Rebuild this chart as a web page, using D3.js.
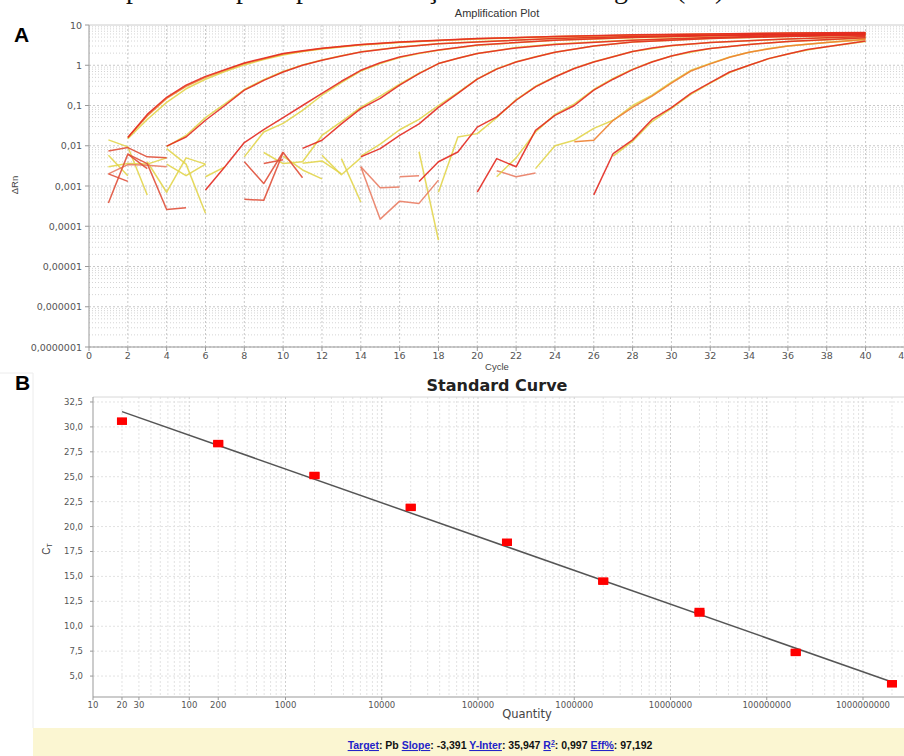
<!DOCTYPE html>
<html lang="pt">
<head>
<meta charset="utf-8">
<title>Amplification Plot / Standard Curve</title>
<script src="https://d3js.org/d3.v7.min.js"></script>
<style>
  body { margin: 0; background: #fff; }
  svg { display: block; font-family: "Liberation Sans", Arial, sans-serif; }
  .tick { fill: #555; font-size: 9.5px; font-family: "DejaVu Sans", sans-serif; }
  .tickB { fill: #555; font-size: 8.5px; font-family: "DejaVu Sans", sans-serif; }
  .gminor { stroke: #d4d4d4; stroke-dasharray: 1,2; }
  .gmajor { stroke: #c8c8c8; stroke-dasharray: 2,2; }
  .axis { stroke: #999; }
  .curve { fill: none; stroke-width: 1.5; stroke-linejoin: round; }
  .link { fill: #2323c8; text-decoration: underline; }
</style>
</head>
<body>
<svg id="chart" width="904" height="756"></svg>
<script>
// ---------- Panel A: amplification curves, [cycle, deltaRn] ----------
const g1Red    = [[2,0.016],[3,0.06],[4,0.16],[5,0.32],[6,0.53],[7,0.78],[8,1.14],[9,1.5],[10,1.95],[11,2.3],[12,2.65],[14,3.3],[16,3.8],[18,4.2],[20,4.6],[24,5.2],[28,5.7],[32,6.0],[36,6.3],[40,6.5]];
const g1Yellow = [[2,0.015],[3,0.045],[4,0.12],[5,0.26],[6,0.45],[7,0.7],[8,1.02],[9,1.38],[10,1.8],[11,2.2],[12,2.55],[14,3.2],[16,3.7],[18,4.1],[20,4.5],[24,5.1],[28,5.6],[32,5.9],[36,6.2],[40,6.4]];
const g1Orange = [[2,0.016],[3,0.055],[4,0.15],[5,0.3],[6,0.5],[7,0.75],[8,1.1],[10,1.9],[12,2.6],[14,3.25],[16,3.75],[20,4.55],[24,5.15],[28,5.6],[32,5.95],[36,6.2],[40,6.4]];
const g2Red    = [[4,0.0098],[5,0.0165],[6,0.043],[7,0.1],[8,0.24],[9,0.42],[10,0.68],[11,1.0],[12,1.33],[13,1.7],[14,2.14],[16,2.8],[18,3.4],[20,3.8],[24,4.6],[28,5.2],[32,5.6],[36,5.9],[40,6.2]];
const g2Yellow = [[4,0.0095],[5,0.018],[6,0.05],[7,0.11],[8,0.25],[9,0.44],[10,0.7],[11,1.02],[12,1.35],[13,1.72],[14,2.15],[16,2.85],[18,3.4],[20,3.85],[24,4.6],[28,5.2],[32,5.6],[36,5.9],[40,6.1]];
const g3Red    = [[6,0.0008],[7,0.003],[8,0.012],[9,0.025],[10,0.05],[11,0.1],[12,0.2],[13,0.4],[14,0.75],[15,1.15],[16,1.6],[17,2.0],[18,2.4],[20,3.2],[24,4.2],[28,4.9],[32,5.4],[36,5.7],[40,6.0]];
const g3Yellow = [[8,0.0053],[9,0.022],[10,0.036],[11,0.076],[12,0.18],[13,0.37],[14,0.72],[15,1.1],[16,1.55],[17,1.95],[18,2.35],[20,3.15],[24,4.15],[28,4.85],[32,5.35],[36,5.65],[40,5.9]];
const g4Red    = [[11,0.0086],[12,0.0137],[13,0.035],[14,0.084],[15,0.15],[16,0.32],[17,0.62],[18,1.1],[19,1.5],[20,1.95],[22,2.7],[24,3.3],[28,4.2],[32,4.9],[36,5.4],[40,5.8]];
const g4Yellow = [[11,0.004],[12,0.018],[13,0.04],[14,0.09],[15,0.17],[16,0.34],[17,0.64],[18,1.1],[19,1.5],[20,1.95],[22,2.75],[24,3.35],[28,4.25],[32,4.9],[36,5.35],[40,5.7]];
const g5Red    = [[14,0.0053],[15,0.0085],[16,0.018],[17,0.035],[18,0.09],[19,0.2],[20,0.45],[21,0.8],[22,1.2],[23,1.6],[24,2.1],[26,3.0],[28,3.8],[32,4.6],[36,5.2],[40,5.6]];
const g5Yellow = [[14,0.0055],[15,0.011],[16,0.025],[17,0.045],[18,0.1],[19,0.21],[20,0.46],[21,0.82],[22,1.22],[23,1.62],[24,2.1],[26,3.0],[28,3.8],[32,4.6],[36,5.15],[40,5.5]];
const g6Red    = [[17,0.0013],[18,0.004],[19,0.007],[20,0.029],[21,0.052],[22,0.135],[23,0.29],[24,0.51],[25,0.83],[26,1.2],[28,2.2],[29,2.7],[30,3.1],[32,3.7],[36,4.5],[40,5.2]];
const g6Yellow = [[18,0.0007],[19,0.0165],[20,0.02],[21,0.05],[22,0.14],[23,0.3],[24,0.52],[25,0.85],[26,1.22],[28,2.2],[30,3.05],[32,3.65],[36,4.5],[40,5.1]];
const g7Red    = [[20,0.0007],[21,0.0048],[22,0.003],[23,0.024],[24,0.057],[25,0.1],[26,0.24],[27,0.45],[28,0.78],[29,1.2],[30,1.7],[31,2.2],[32,2.6],[34,3.3],[36,3.9],[40,4.8]];
const g7Yellow = [[21,0.0017],[22,0.005],[23,0.022],[24,0.06],[25,0.11],[26,0.25],[27,0.47],[28,0.8],[29,1.22],[30,1.7],[32,2.6],[34,3.3],[36,3.9],[40,4.7]];
const g8Yellow = [[23,0.0027],[24,0.01],[25,0.0137],[26,0.027],[27,0.043],[28,0.1],[29,0.18],[30,0.38],[31,0.75],[32,1.1],[33,1.6],[34,2.1],[35,2.6],[36,3.0],[38,3.7],[40,4.3]];
const g8Salmon = [[25,0.0125],[26,0.0137],[27,0.043],[28,0.09],[29,0.17],[30,0.36],[31,0.72],[32,1.08],[33,1.58],[34,2.1],[35,2.55],[36,3.0],[38,3.7],[40,4.4]];
const g9Red    = [[26,0.0006],[27,0.0064],[28,0.014],[29,0.045],[30,0.089],[31,0.2],[32,0.37],[33,0.68],[34,1.0],[35,1.46],[36,1.9],[37,2.45],[38,2.9],[40,4.0]];
const g9Yellow = [[27,0.0055],[28,0.013],[29,0.04],[30,0.085],[31,0.19],[32,0.36],[33,0.66],[34,1.0],[35,1.45],[36,1.9],[37,2.4],[38,2.9],[40,3.9]];

// baseline noise (only the positive values show on a log axis)
const noiseYellow = [
  [[1,0.014],[2,0.0094],[3,0.0006]],
  [[1,0.0058],[2,0.0018]],
  [[1,0.003],[2,0.0036],[3,0.0035],[4,0.005]],
  [[3,0.004],[4,0.0007],[5,0.005],[6,0.0035]],
  [[4,0.0085],[5,0.0035],[6,0.00021]],
  [[4,0.0035],[5,0.0018],[6,0.0035]],
  [[6,0.0017],[7,0.003]],
  [[9,0.0068],[10,0.0036],[11,0.004]],
  [[10,0.0055],[11,0.0025],[12,0.0015]],
  [[11,0.0037],[12,0.0042],[13,0.002]],
  [[12,0.0058],[13,0.0019],[14,0.005]],
  [[13,0.0048],[14,0.0004]],
  [[17,0.0071],[18,0.000045]]
];
const noiseRed = [
  [[1,0.0074],[2,0.009],[3,0.0053],[4,0.005]],
  [[1,0.00038],[2,0.0062],[3,0.0027]],
  [[1,0.002],[2,0.0013]],
  [[2,0.0062],[3,0.0036],[4,0.00026],[5,0.00029]],
  [[8,0.004],[9,0.00115],[10,0.007]],
  [[8,0.00047],[9,0.00044],[10,0.0068],[11,0.0016]],
  [[9,0.0036],[10,0.0045]]
];
const noiseSalmon = [
  [[1,0.002],[2,0.0034],[3,0.0033],[4,0.003]],
  [[14,0.003],[15,0.00015],[16,0.00042],[17,0.00037],[18,0.0014]],
  [[14,0.003],[15,0.0009],[16,0.00095]],
  [[16,0.0017],[17,0.0018]],
  [[21,0.0024],[22,0.0017],[23,0.0021]]
];

const xTicksA = [0,2,4,6,8,10,12,14,16,18,20,22,24,26,28,30,32,34,36,38,40,42];
const yTicksA = [1e-7,1e-6,1e-5,1e-4,1e-3,0.01,0.1,1,10];
const yTickLabelsA = ["0,0000001","0,000001","0,00001","0,0001","0,001","0,01","0,1","1","10"];

// ---------- Panel B: standard curve ----------
const quantities = [20,200,2000,20000,200000,2000000,20000000,200000000,2000000000];
const ctRep1 = [30.6,28.35,25.15,21.9,18.4,14.5,11.3,7.4,4.2];
const ctRep2 = [30.55,28.3,25.1,21.95,18.45,14.55,11.5,7.35,4.25];
const slope = -3.391, yInter = 35.947;
const xTicksB = [10,20,30,100,200,1000,10000,100000,1000000,10000000,100000000,1000000000];
const yTicksB = [5,7.5,10,12.5,15,17.5,20,22.5,25,27.5,30,32.5];
const statLabels = [["Target","Pb"],["Slope","-3,391"],["Y-Inter","35,947"],["R","0,997"],["Eff%","97,192"]];

// words of the caption line cut off at the top of the figure
const captionWords = [[126,"por"],[236,"para"],[296,"padrão"],[392,"reação"],[614,"gene"],[676,"(Pb)"]];

const RED = "#e3291f", ORANGE = "#ee8030", YELLOW = "#e2d54c", SALMON = "#e97d64";

const svg = d3.select("#chart");

const cap = svg.append("text").attr("y", -2).style("font-family", "'Liberation Serif', serif").style("font-size", "28px").attr("fill", "#111");
captionWords.forEach(function(w) {
  cap.append("tspan").attr("x", w[0]).text(w[1] + " ");
});

// ================= Panel A =================
const xA = d3.scaleLinear().domain([0, 42]).range([89, 904.4]);
const yA = d3.scaleLog().domain([1e-7, 10]).range([347, 25]);
const gA = svg.append("g");

const minorA = [];
d3.range(-7, 1).forEach(function(e) { [2,3,4,5,6,7,8,9].forEach(function(k) { minorA.push(k * Math.pow(10, e)); }); });
gA.selectAll("line.hm").data(minorA).enter().append("line").attr("class", "gminor")
  .attr("x1", 89).attr("x2", 904).attr("y1", d => yA(d)).attr("y2", d => yA(d));
gA.selectAll("line.hM").data(yTicksA.slice(0, 8)).enter().append("line").attr("class", "gmajor")
  .attr("x1", 89).attr("x2", 904).attr("y1", d => yA(d)).attr("y2", d => yA(d));
gA.selectAll("line.vM").data(xTicksA.slice(1)).enter().append("line").attr("class", "gmajor")
  .attr("x1", d => xA(d)).attr("x2", d => xA(d)).attr("y1", 25).attr("y2", 347);
gA.append("line").attr("x1", 89).attr("x2", 904).attr("y1", 25).attr("y2", 25).attr("stroke", "#ccc");

const lineA = d3.line().x(d => xA(d[0])).y(d => yA(d[1]));
function drawCurves(list, color) {
  gA.selectAll(null).data(list).enter().append("path").attr("class", "curve")
    .attr("stroke", color).attr("stroke-opacity", 0.9).attr("d", lineA);
}
drawCurves(noiseYellow, YELLOW);
drawCurves(noiseSalmon, SALMON);
drawCurves(noiseRed, "#e0503a");
drawCurves([g1Yellow, g2Yellow, g3Yellow, g4Yellow, g5Yellow, g6Yellow, g7Yellow, g8Yellow, g9Yellow], YELLOW);
drawCurves([g1Orange, g8Salmon], ORANGE);
drawCurves([g1Red, g2Red, g3Red, g4Red, g5Red, g6Red, g7Red, g9Red], RED);

gA.append("line").attr("class", "axis").attr("x1", 89).attr("x2", 89).attr("y1", 25).attr("y2", 347);
gA.append("line").attr("class", "axis").attr("x1", 89).attr("x2", 904).attr("y1", 347).attr("y2", 347);
gA.selectAll("line.ty").data(yTicksA).enter().append("line").attr("class", "axis")
  .attr("x1", 85).attr("x2", 89).attr("y1", d => yA(d)).attr("y2", d => yA(d));
gA.selectAll("line.tx").data(xTicksA).enter().append("line").attr("class", "axis")
  .attr("x1", d => xA(d)).attr("x2", d => xA(d)).attr("y1", 347).attr("y2", 351);
gA.selectAll("text.ty").data(yTicksA).enter().append("text").attr("class", "tick")
  .attr("x", 82).attr("y", d => yA(d) + 3.5).attr("text-anchor", "end").text((d, i) => yTickLabelsA[i]);
gA.selectAll("text.tx").data(xTicksA).enter().append("text").attr("class", "tick")
  .attr("x", d => xA(d)).attr("y", 359).attr("text-anchor", "middle").text(d => d);

svg.append("text").attr("x", 497).attr("y", 17).attr("text-anchor", "middle")
  .style("font-size", "11px").attr("fill", "#333").text("Amplification Plot");
svg.append("text").attr("x", 497).attr("y", 370).attr("text-anchor", "middle")
  .style("font-size", "9.5px").attr("fill", "#444").text("Cycle");
svg.append("text").attr("transform", "translate(18,185) rotate(-90)").attr("text-anchor", "middle")
  .style("font-size", "9.5px").attr("fill", "#444").text("ΔRn");
svg.append("text").attr("x", 14).attr("y", 42).style("font-size", "21px").style("font-weight", "bold").text("A");

// ================= Panel B =================
const xB = d3.scaleLog().domain([10, 1e9]).range([93, 863]);
const yB = d3.scaleLinear().domain([2.9, 33]).range([697, 397]);
const gB = svg.append("g");

svg.append("path").attr("d", "M0,373H33V728").attr("fill", "none").attr("stroke", "#ececec");

const minorB = [];
d3.range(1, 10).forEach(function(e) { [1,2,3,4,5,6,7,8,9].forEach(function(k) { minorB.push(k * Math.pow(10, e)); }); });
gB.selectAll("line.vm").data(minorB.filter(d => xB(d) > 94 && xB(d) < 904)).enter().append("line")
  .attr("stroke", d => (Math.log10(d) % 1 === 0) ? "#cfcfcf" : "#e2e2e2").attr("stroke-dasharray", "2,2")
  .attr("x1", d => xB(d)).attr("x2", d => xB(d)).attr("y1", 397).attr("y2", 697);
gB.selectAll("line.hm").data(yTicksB).enter().append("line").attr("stroke", "#e2e2e2").attr("stroke-dasharray", "2,2")
  .attr("x1", 93).attr("x2", 904).attr("y1", d => yB(d)).attr("y2", d => yB(d));
gB.append("line").attr("x1", 93).attr("x2", 904).attr("y1", 397).attr("y2", 397).attr("stroke", "#d8d8d8");
gB.append("line").attr("class", "axis").attr("x1", 93).attr("x2", 93).attr("y1", 397).attr("y2", 697);
gB.append("line").attr("class", "axis").attr("x1", 93).attr("x2", 904).attr("y1", 697).attr("y2", 697);
gB.selectAll("line.tx").data(xTicksB).enter().append("line").attr("class", "axis")
  .attr("x1", d => xB(d)).attr("x2", d => xB(d)).attr("y1", 697).attr("y2", 700);
gB.selectAll("line.ty").data(yTicksB).enter().append("line").attr("class", "axis")
  .attr("x1", 90).attr("x2", 93).attr("y1", d => yB(d)).attr("y2", d => yB(d));
gB.selectAll("text.tx").data(xTicksB).enter().append("text").attr("class", "tickB")
  .attr("x", d => xB(d)).attr("y", 708).attr("text-anchor", "middle").text(d => d);
gB.selectAll("text.ty").data(yTicksB).enter().append("text").attr("class", "tickB")
  .attr("x", 83).attr("y", d => yB(d) + 3).attr("text-anchor", "end").text(d => d.toFixed(1).replace(".", ","));

// regression line
const qRange = [quantities[0], quantities[quantities.length - 1]];
gB.append("line").attr("stroke", "#555").attr("stroke-width", 1.5)
  .attr("x1", xB(qRange[0])).attr("y1", yB(slope * Math.log10(qRange[0]) + yInter))
  .attr("x2", xB(qRange[1])).attr("y2", yB(slope * Math.log10(qRange[1]) + yInter));

// replicate points
[ctRep1, ctRep2].forEach(function(rep) {
  gB.selectAll(null).data(quantities).enter().append("rect")
    .attr("x", d => xB(d) - 5).attr("y", (d, i) => yB(rep[i]) - 3.5)
    .attr("width", 10).attr("height", 7).attr("fill", "#ff0000");
});

svg.append("text").attr("x", 497).attr("y", 391).attr("text-anchor", "middle")
  .style("font-size", "16px").style("font-weight", "bold").style("font-family", "'DejaVu Sans', sans-serif")
  .attr("fill", "#222").text("Standard Curve");
svg.append("text").attr("x", 527).attr("y", 718).attr("text-anchor", "middle")
  .style("font-size", "11.5px").style("font-family", "'DejaVu Sans', sans-serif").attr("fill", "#444").text("Quantity");
const ct = svg.append("text").attr("transform", "translate(50,549) rotate(-90)").attr("text-anchor", "middle")
  .style("font-size", "10px").attr("fill", "#444");
ct.append("tspan").text("C");
ct.append("tspan").attr("font-size", "7px").attr("dy", 2).text("T");
svg.append("text").attr("x", 15).attr("y", 390).style("font-size", "21px").style("font-weight", "bold").text("B");

// footer with fit statistics
svg.append("rect").attr("x", 33).attr("y", 728).attr("width", 871).attr("height", 28).attr("fill", "#fbf6d2");
const foot = svg.append("text").attr("x", 500).attr("y", 749).attr("text-anchor", "middle")
  .style("font-size", "10.5px").style("font-weight", "bold").attr("fill", "#111");
statLabels.forEach(function(s, i) {
  foot.append("tspan").attr("class", "link").text(s[0]);
  if (s[0] === "R") foot.append("tspan").attr("class", "link").attr("font-size", "7px").attr("dy", -4).text("2");
  foot.append("tspan").attr("dy", s[0] === "R" ? 4 : 0).text(": " + s[1] + (i < statLabels.length - 1 ? " " : ""));
});
</script>
</body>
</html>
